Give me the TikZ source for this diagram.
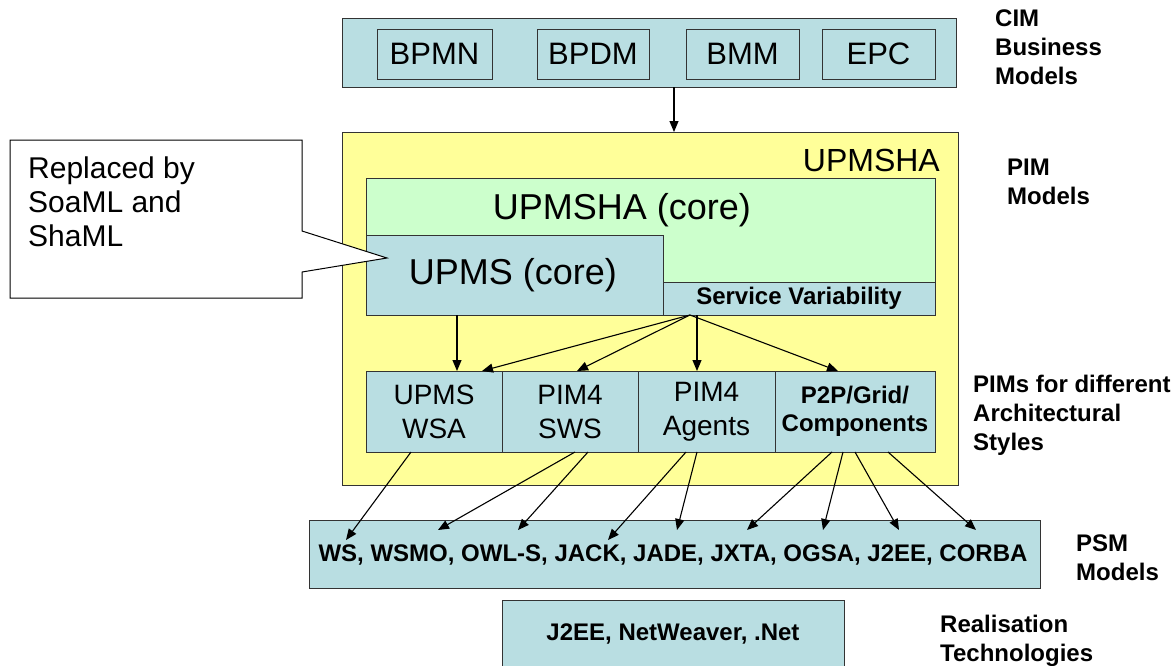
\documentclass[tikz,border=0pt]{standalone}
\usepackage{fontspec}
\setmainfont{Liberation Sans}
\usetikzlibrary{arrows.meta,calc}
\definecolor{lblue}{RGB}{185,222,226}
\definecolor{lyellow}{RGB}{255,255,153}
\definecolor{lgreen}{RGB}{204,255,204}
\newcommand{\fs}[1]{\fontsize{#1}{#1}\selectfont}
\tikzset{
  box/.style={draw=black!80, line width=1pt, fill=lblue, inner sep=0pt, outer sep=0pt, anchor=north west},
  lbl/.style={inner sep=0pt, align=center},
  side/.style={inner sep=0pt, align=left, anchor=north west, font=\fontsize{24}{29}\selectfont\bfseries},
  arr/.style={draw=black, line width=1.1pt, -{Triangle[width=9pt,length=11pt]}},
}
\begin{document}
\begin{tikzpicture}[x=1pt,y=-1pt]
\useasboundingbox (0,0) rectangle (1176,665);
% CIM
\node[box, minimum width=614, minimum height=69] (cim) at (342,18) {};
\node[box, minimum width=115, minimum height=50] (bpmn) at (377,29) {};
\node[box, minimum width=112, minimum height=50] (bpdm) at (537,29) {};
\node[box, minimum width=113, minimum height=50] (bmm) at (686,29) {};
\node[box, minimum width=113, minimum height=50] (epc) at (822,29) {};
\node[lbl, font=\fs{31}] at (bpmn.center) {BPMN};
\node[lbl, font=\fs{31}] at (bpdm.center) {BPDM};
\node[lbl, font=\fs{31}] at (bmm.center) {BMM};
\node[lbl, font=\fs{31}] at (epc.center) {EPC};
% PIM
\node[box, fill=lyellow, minimum width=616, minimum height=353] (pim) at (342,132) {};
\draw[arr] (cim.south -| 674,0) -- (pim.north -| 674,0);
\node[lbl, anchor=east, font=\fs{32}] (upmsha) at (940,160) {UPMSHA};
\node[box, fill=lgreen, minimum width=569, minimum height=137] (core) at (366,178) {};
\node[lbl, font=\fs{36}] (corelbl) at (622,210) {UPMSHA (core)};
\node[box, minimum width=297, minimum height=80] (upms) at (366,235) {};
\node[lbl, font=\fs{36}] at (513,275) {UPMS (core)};
\node[box, minimum width=272, minimum height=33] (sv) at (663,282) {};
\node[lbl, font=\fs{24}\bfseries] at (sv.center) {Service Variability};
% PIM row
\node[box, minimum width=136, minimum height=81] (wsa) at (366,371) {};
\node[box, minimum width=136, minimum height=81] (sws) at (502,371) {};
\node[box, minimum width=137, minimum height=81] (agents) at (638,371) {};
\node[box, minimum width=160, minimum height=81] (p2p) at (775,371) {};
\node[lbl, font=\fs{28}] at (wsa.center) {UPMS\\[6pt]WSA};
\node[lbl, font=\fs{28}] at (sws.center) {PIM4\\[6pt]SWS};
\node[lbl, font=\fs{28}] at (agents.center) {PIM4\\[6pt]Agents};
\node[lbl, font=\fs{24}\bfseries] at (p2p.center) {P2P/Grid/\\[4pt]Components};
\draw[arr] (upms.south -| 457,0) -- (wsa.north -| 457,0);
\coordinate (svs) at (690,315);
\draw[arr] (svs) -- (wsa.north -| 482,0);
\draw[arr] (svs) -- (sws.north -| 577,0);
\draw[arr] (sv.south -| 697,0) -- (agents.north -| 697,0);
\draw[arr] (svs) -- (p2p.north -| 838,0);
% PSM
\node[box, minimum width=731, minimum height=68] (psm) at (309,520) {};
\node[lbl, font=\fs{24}\bfseries] at (673,555) {WS, WSMO, OWL-S, JACK, JADE, JXTA, OGSA, J2EE, CORBA};
\coordinate (ws) at (346,540);
\coordinate (wsmo) at (438,530);
\coordinate (owls) at (518,530);
\coordinate (jack) at (608,540);
\coordinate (jade) at (677,530);
\coordinate (jxta) at (747,530);
\coordinate (ogsa) at (823,530);
\coordinate (jee) at (899,530);
\coordinate (corba) at (976,530);
\draw[arr] (wsa.south -| 411,0) -- (ws);
\draw[arr] (sws.south -| 575,0) -- (wsmo);
\draw[arr] (sws.south -| 588,0) -- (owls);
\draw[arr] (agents.south -| 686,0) -- (jack);
\draw[arr] (agents.south -| 697,0) -- (jade);
\draw[arr] (p2p.south -| 832,0) -- (jxta);
\draw[arr] (p2p.south -| 843,0) -- (ogsa);
\draw[arr] (p2p.south -| 855,0) -- (jee);
\draw[arr] (p2p.south -| 888,0) -- (corba);
% Realisation
\node[box, minimum width=342, minimum height=75] (real) at (502,600) {};
\node[lbl, font=\fs{24}\bfseries] at (673,634) {J2EE, NetWeaver, .Net};
% callout
\coordinate (tip) at (387,258);
\draw[line width=1pt, fill=white] (10,140) -- (302,140) -- (302,231) -- (tip) -- (302,272) -- (302,298) -- (10,298) -- cycle;
\node[lbl, align=left, anchor=north west, font=\fontsize{30}{34}\selectfont] (note) at (28,157) {Replaced by\\SoaML and\\ShaML};
% side labels
\node[side] (l1) at (995,9.5) {CIM\\Business\\Models};
\node[side] (l2) at (1007,158.5) {PIM\\Models};
\node[side] (l3) at (973,374.5) {PIMs for different\\Architectural\\Styles};
\node[side] (l4) at (1076,534.5) {PSM\\Models};
\node[side] (l5) at (940,614.5) {Realisation\\Technologies};
\end{tikzpicture}
\end{document}
